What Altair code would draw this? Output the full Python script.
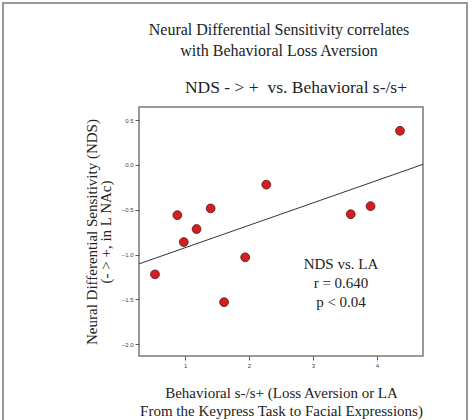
import altair as alt
import pandas as pd

# Data
la_values = [0.53, 0.88, 0.98, 1.18, 1.40, 1.61, 1.94, 2.27, 3.59, 3.90, 4.36]
nds_values = [-1.22, -0.56, -0.86, -0.715, -0.485, -1.53, -1.03, -0.22, -0.55, -0.46, 0.38]
x_ticks = [1, 2, 3, 4]
y_ticks = [-2.0, -1.5, -1.0, -0.5, 0.0, 0.5]
x_domain = [0.28, 4.72]
y_domain = [-2.13, 0.645]

title_lines = ["Neural Differential Sensitivity correlates", "with Behavioral Loss Aversion"]
subtitle_text = "NDS - > +\u00a0 vs. Behavioral s-/s+"
x_title = ["Behavioral s-/s+ (Loss Aversion or LA", "From the Keypress Task to Facial Expressions)"]
y_title = ["Neural Differential Sensitivity (NDS)", "(- > +, in L NAc)"]
stats_lines = ["NDS vs. LA", "r = 0.640", "p < 0.04"]

df = pd.DataFrame({"la": la_values, "nds": nds_values})
one = pd.DataFrame({"k": [0]})

SERIF = "Liberation Serif"

x_enc = alt.X("la:Q",
              scale=alt.Scale(domain=x_domain, nice=False, zero=False),
              axis=alt.Axis(values=x_ticks, format="d", title=x_title,
                            titleY=29, titleBaseline="top", titleLineHeight=18))
y_enc = alt.Y("nds:Q",
              scale=alt.Scale(domain=y_domain, nice=False, zero=False),
              axis=alt.Axis(values=y_ticks, format=".1f", title=y_title,
                            titleX=-40, titleBaseline="bottom", titleLineHeight=14))

base = alt.Chart(df)
deco = alt.Chart(one)

points = base.mark_circle(size=78, color="#d21f1f", stroke="#5a1414",
                          strokeWidth=0.8, opacity=1).encode(x=x_enc, y=y_enc)

fit = base.transform_regression("la", "nds", extent=x_domain).mark_line(
    color="#333333", strokeWidth=1).encode(x=x_enc, y=y_enc)

title1 = deco.mark_text(text=title_lines, font=SERIF, fontSize=16, lineHeight=21,
                        baseline="middle", align="center", color="#222222").encode(
    x=alt.value(140), y=alt.value(-77))
subtitle = deco.mark_text(text=subtitle_text, font=SERIF, fontSize=17.5,
                          baseline="middle", align="center", color="#222222").encode(
    x=alt.value(157), y=alt.value(-19))
stats = deco.mark_text(text=stats_lines, font=SERIF, fontSize=15, lineHeight=19,
                       baseline="middle", align="center", color="#222222").encode(
    x=alt.value(202), y=alt.value(157))

border_left = deco.mark_rule(color="#999999", strokeWidth=2).encode(
    x=alt.value(-136), y=alt.value(-104), y2=alt.value(320))
border_top = deco.mark_rule(color="#999999", strokeWidth=2).encode(
    x=alt.value(-137), x2=alt.value(329), y=alt.value(-104))
border_right = deco.mark_rule(color="#999999", strokeWidth=2).encode(
    x=alt.value(328), y=alt.value(-104), y2=alt.value(320))

chart = alt.layer(fit, points, title1, subtitle, stats,
                  border_left, border_top, border_right).properties(
    width=284, height=249,
    autosize=alt.AutoSizeParams(type="none"),
    padding={"left": 139, "top": 107, "right": 50, "bottom": 64},
    background="white",
).configure_view(
    stroke="#7a7a7a", strokeWidth=1.5
).configure_axis(
    grid=False, domain=False,
    tickColor="#555555", tickSize=4, tickWidth=1,
    labelFont="Liberation Sans", labelFontSize=6, labelColor="#444444",
    labelPadding=2,
    titleFont=SERIF, titleFontSize=15, titleFontWeight="normal",
    titleColor="#222222",
)

chart.save("out.html", embed_options={"renderer": "svg", "actions": False})
